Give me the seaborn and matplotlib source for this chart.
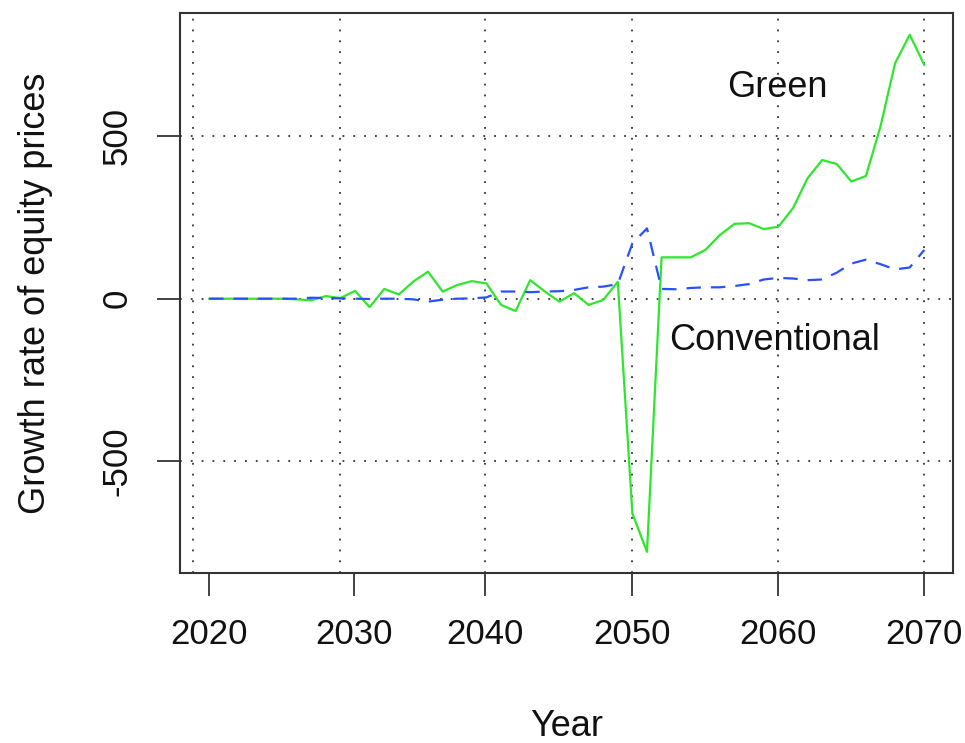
import numpy as np
import pandas as pd
import matplotlib
matplotlib.use("Agg")
import matplotlib.pyplot as plt
import seaborn as sns

# growth rate of equity prices, 50 model periods from 2020 to 2070
green = [0, 0, 0, 0, 0, 0, -2, -5, 8, 2,
         24, -26, 30, 13, 53, 83, 22, 42, 54, 47,
         -19, -38, 57, 22, -9, 17, -19, -4, 52, -660,
         -778, 127, 127, 127, 150, 196, 230, 232, 214, 221,
         278, 370, 426, 414, 360, 377, 530, 724, 811, 718]
conventional = [0, 0, 0, 0, 0, 0, 0, 3, 2, 1,
                0, -1, 0, 0, -2, -9, -3, 0, 1, 4,
                22, 22, 20, 22, 23, 27, 35, 37, 45, 170,
                216, 30, 29, 33, 35, 35, 39, 45, 59, 64,
                62, 57, 59, 80, 108, 120, 106, 90, 96, 150]
year_start, year_end = 2020, 2070

x_tick_pos = [2020, 2030.1, 2039.3, 2049.55, 2059.75, 2069.95]
x_tick_labels = ["2020", "2030", "2040", "2050", "2060", "2070"]
x_grid = [2018.9, 2029.15, 2039.3, 2049.55, 2059.75, 2069.95]
y_ticks = [-500, 0, 500]
y_tick_labels = ["-500", "0", "500"]

years = np.linspace(year_start, year_end, len(green))
df = pd.DataFrame({"year": years, "green": green, "conventional": conventional})

sns.set_style("white")
plt.rcParams["font.family"] = ["Liberation Sans", "DejaVu Sans"]

fig = plt.figure(figsize=(9.65, 7.43), dpi=100)
ax = fig.add_axes([0.187, 0.2292, 0.8005, 0.7529])

# dotted grid like R's grid()
grid_kw = dict(color="0.2", linewidth=1.3, linestyle=(0, (1, 5)), zorder=1)
for gx in x_grid:
    ax.axvline(gx, **grid_kw)
for gy in y_ticks:
    ax.axhline(gy, **grid_kw)

sns.lineplot(data=df, x="year", y="green", color="#2ee62e", linewidth=1.6, ax=ax, zorder=3)
sns.lineplot(data=df, x="year", y="conventional", color="#2850ff", linewidth=1.6,
             linestyle=(0, (6.5, 4.5)), ax=ax, zorder=4)

ax.text(2059.7, 621, "Green", ha="center", va="baseline", fontsize=26, color="#111111")
ax.text(2059.5, -158, "Conventional", ha="center", va="baseline", fontsize=26, color="#111111")

ax.set_xlim(2018, 2072)
ax.set_ylim(-842, 877)
ax.set_xticks(x_tick_pos, x_tick_labels)
ax.set_yticks(y_ticks, y_tick_labels)
ax.tick_params(axis="both", direction="out", length=16.5, width=1.2, color="#222222",
               labelsize=25, labelcolor="#111111", bottom=True, left=True)
ax.tick_params(axis="x", pad=16)
ax.tick_params(axis="y", pad=17)
for lab in ax.get_yticklabels():
    lab.set_rotation(90)
    lab.set_va("center")

for sp in ax.spines.values():
    sp.set_visible(True)
    sp.set_linewidth(1.5)
    sp.set_color("#333333")

ax.set_xlabel("Year", fontsize=26, color="#111111")
ax.xaxis.set_label_coords(0.5, -0.2915)
ax.xaxis.label.set_va("baseline")
ax.set_ylabel("Growth rate of equity prices", fontsize=26, color="#111111")
ax.yaxis.set_label_coords(-0.175, 0.5)
ax.yaxis.label.set_va("baseline")

fig.savefig("out.png", dpi=100)
